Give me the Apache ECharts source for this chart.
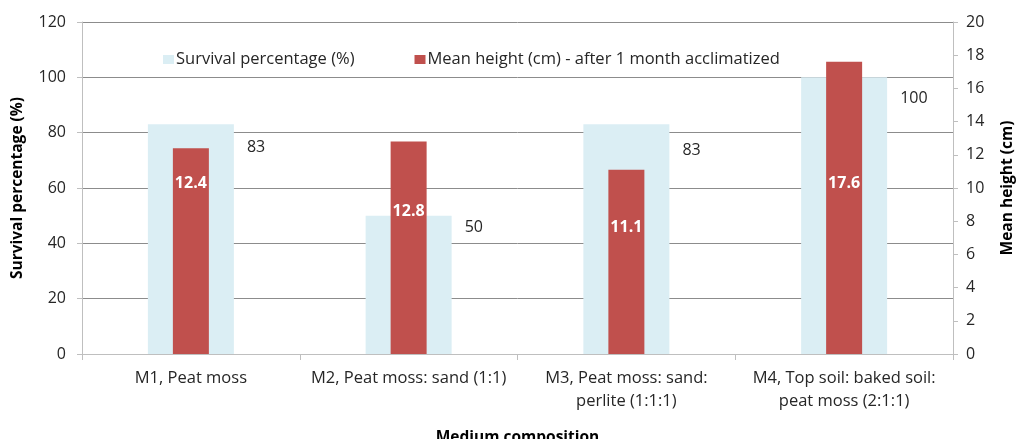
<!DOCTYPE html>
<html>
<head>
<meta charset="utf-8">
<script src="https://cdn.jsdelivr.net/npm/echarts@6/dist/echarts.min.js"></script>
<style>
  html, body { margin: 0; padding: 0; background: #fff; }
  #chart { width: 1016px; height: 439px; }
</style>
</head>
<body>
<div id="chart"></div>
<script>
// ---- data ----
const categories = [
  'M1, Peat moss',
  'M2, Peat moss: sand (1:1)',
  'M3, Peat moss: sand:\nperlite (1:1:1)',
  'M4, Top soil: baked soil:\npeat moss (2:1:1)'
];
const survival = [83, 50, 83, 100];
const meanHeight = [12.4, 12.8, 11.1, 17.6];
// where the data labels sit in the reference, in each series' own axis units
const survivalLabelAt = [74.5, 45.9, 73.4, 92.5];
const heightLabelAt = [10.3, 8.6, 7.6, 10.3];
const leftTicks = { min: 0, max: 120, interval: 20 };
const rightTicks = { min: 0, max: 20, interval: 2 };

// ---- layout ----
const FONT = '"Open Sans", "Noto Sans", sans-serif';
const gridTop = 22, gridBottom = 85, chartH = 439;
const plotH = chartH - gridTop - gridBottom;
function yPix(v, max) { return gridTop + plotH * (1 - v / max); }

const survivalData = survival.map((v, i) => ({
  value: v,
  label: { offset: [0, yPix(survivalLabelAt[i], leftTicks.max) - yPix(v / 2, leftTicks.max)] }
}));
const heightData = meanHeight.map((v, i) => ({
  value: v,
  label: { offset: [0, yPix(heightLabelAt[i], rightTicks.max) - yPix(v / 2, rightTicks.max)] }
}));

const axisColor = '#bfbfbf';
const textColor = '#262626';

const chart = echarts.init(document.getElementById('chart'));
chart.setOption({
  animation: false,
  backgroundColor: '#fff',
  textStyle: { fontFamily: FONT },
  grid: { left: 82, right: 63, top: gridTop, bottom: gridBottom, containLabel: false, outerBoundsMode: 'none' },
  legend: {
    top: 46,
    left: 158,
    itemWidth: 11,
    itemHeight: 9,
    itemGap: 60,
    icon: 'rect',
    textStyle: { fontFamily: FONT, fontSize: 16.5, color: textColor, padding: [0, 0, 0, -3] },
    data: ['Survival percentage (%)', 'Mean height (cm) - after 1 month acclimatized']
  },
  xAxis: [
    {
      type: 'category',
      data: categories,
      name: 'Medium composition',
      nameLocation: 'middle',
      nameGap: 76,
      nameTextStyle: { fontFamily: FONT, fontSize: 15.5, fontWeight: 'bold', color: '#000' },
      axisLine: { lineStyle: { color: axisColor, width: 1 } },
      axisTick: { show: true, length: 6, lineStyle: { color: axisColor }, alignWithLabel: false },
      axisLabel: { interval: 0, fontFamily: FONT, fontSize: 16.5, color: textColor, margin: 13, lineHeight: 23 },
      splitLine: { show: false }
    },
    {
      type: 'category',
      data: categories,
      show: false
    }
  ],
  yAxis: [
    {
      type: 'value',
      min: leftTicks.min, max: leftTicks.max, interval: leftTicks.interval,
      name: 'Survival percentage (%)',
      nameLocation: 'middle',
      nameRotate: 90,
      nameGap: 56,
      nameTextStyle: { fontFamily: FONT, fontSize: 15.5, fontWeight: 'bold', color: '#000' },
      axisLine: { show: true, lineStyle: { color: axisColor } },
      axisTick: { show: true, length: 5, lineStyle: { color: axisColor } },
      axisLabel: { fontFamily: FONT, fontSize: 16, color: textColor, margin: 16 },
      splitLine: { show: true, lineStyle: { color: '#8c8c8c', width: 1 } }
    },
    {
      type: 'value',
      position: 'right',
      min: rightTicks.min, max: rightTicks.max, interval: rightTicks.interval,
      name: 'Mean height (cm)',
      nameLocation: 'middle',
      nameRotate: 90,
      nameGap: 47,
      nameTextStyle: { fontFamily: FONT, fontSize: 15.5, fontWeight: 'bold', color: '#000' },
      axisLine: { show: true, lineStyle: { color: axisColor } },
      axisTick: { show: true, length: 5, lineStyle: { color: axisColor } },
      axisLabel: { fontFamily: FONT, fontSize: 16, color: textColor, margin: 13 },
      splitLine: { show: false }
    }
  ],
  series: [
    {
      name: 'Survival percentage (%)',
      type: 'bar',
      xAxisIndex: 0,
      yAxisIndex: 0,
      barWidth: 86,
      data: survivalData,
      itemStyle: { color: '#dbeef4' },
      label: {
        show: true,
        position: 'right',
        distance: 13,
        fontFamily: FONT,
        fontSize: 16,
        color: textColor
      }
    },
    {
      name: 'Mean height (cm) - after 1 month acclimatized',
      type: 'bar',
      xAxisIndex: 1,
      yAxisIndex: 1,
      barWidth: 36,
      data: heightData,
      itemStyle: { color: '#c0504d' },
      label: {
        show: true,
        position: 'inside',
        fontFamily: FONT,
        fontSize: 16,
        fontWeight: 'bold',
        color: '#fff'
      }
    }
  ]
});
</script>
</body>
</html>
